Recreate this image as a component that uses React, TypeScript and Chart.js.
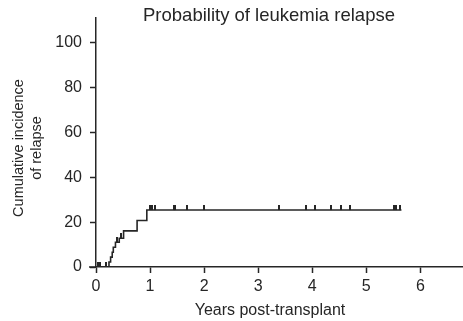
import React, { useEffect, useRef } from "react";
import { Chart, registerables } from "chart.js";

Chart.register(...registerables);

// Step (event) times in years and cumulative incidence (%) reached at each time
const stepTimes = [0, 0.24, 0.27, 0.3, 0.32, 0.36, 0.43, 0.51, 0.76, 0.94, 5.65];
const stepValues = [0, 2.2, 4.4, 6.6, 8.8, 11.0, 12.8, 16.1, 20.7, 25.4, 25.4];

// Censored observations (years)
const censorTimes = [
  0.03, 0.08, 0.19, 0.39, 0.47, 0.99, 1.04, 1.09, 1.45, 1.47, 1.69, 1.99,
  3.38, 3.89, 4.05, 4.34, 4.53, 4.69, 5.51, 5.55, 5.63,
];

const xTicks = [0, 1, 2, 3, 4, 5, 6];
const yTicks = [0, 20, 40, 60, 80, 100];

const chartTitle = "Probability of leukemia relapse";
const xTitle = "Years post-transplant";
const yTitle = ["Cumulative incidence", "of relapse"];

const INK = "#262626";
const FONT = "'Liberation Sans', Arial, sans-serif";

function levelAt(t: number): number {
  let v = 0;
  for (let i = 0; i < stepTimes.length; i++) {
    if (stepTimes[i] <= t) v = stepValues[i];
  }
  return v;
}

function makeCensorMark(): HTMLCanvasElement {
  const c = document.createElement("canvas");
  c.width = 2;
  c.height = 10;
  const g = c.getContext("2d")!;
  g.fillStyle = INK;
  g.fillRect(0, 0, 2, 5);
  return c;
}

export default function App() {
  const ref = useRef<HTMLCanvasElement | null>(null);

  useEffect(() => {
    document.body.style.margin = "0";
    const canvas = ref.current!;
    const mark = makeCensorMark();

    const decor = {
      id: "decor",
      afterDraw(chart: any) {
        const ctx = chart.ctx;
        const xs = chart.scales.x;
        const ys = chart.scales.y;
        const y0 = ys.getPixelForValue(0);
        const xL = xs.getPixelForValue(0);
        ctx.save();
        // short extension of the x axis left of the y axis
        ctx.strokeStyle = INK;
        ctx.lineWidth = 1.5;
        ctx.beginPath();
        ctx.moveTo(xL - 7, y0);
        ctx.lineTo(xL, y0);
        ctx.stroke();

        ctx.fillStyle = INK;
        // chart title
        ctx.font = `18.5px ${FONT}`;
        ctx.textAlign = "center";
        ctx.textBaseline = "middle";
        ctx.fillText(chartTitle, 269, 16);
        // x title
        ctx.font = `16px ${FONT}`;
        ctx.fillText(xTitle, 270, 311);
        // y title (rotated)
        ctx.font = `14.5px ${FONT}`;
        ctx.translate(0, 148);
        ctx.rotate(-Math.PI / 2);
        ctx.textBaseline = "alphabetic";
        ctx.fillText(yTitle[0], 0, 22.5);
        ctx.fillText(yTitle[1], 0, 40.5);
        ctx.restore();
      },
    };

    const chart = new Chart(canvas, {
      type: "line",
      data: {
        datasets: [
          {
            type: "line",
            data: stepTimes.map((t, i) => ({ x: t, y: stepValues[i] })),
            stepped: "before",
            borderColor: INK,
            borderWidth: 1.6,
            pointRadius: 0,
            fill: false,
          },
          {
            type: "scatter",
            data: censorTimes.map((t) => ({ x: t, y: levelAt(t) })),
            pointStyle: mark as any,
            pointRadius: 5,
          },
        ],
      },
      options: {
        responsive: false,
        animation: false,
        events: [],
        layout: { autoPadding: false, padding: { top: 18, right: 1, left: 0, bottom: 0 } },
        plugins: {
          legend: { display: false },
          title: { display: false },
          tooltip: { enabled: false },
        },
        scales: {
          x: {
            type: "linear",
            min: 0,
            max: 6.77,
            afterFit: (s: any) => {
              s.height = 54;
              s.paddingLeft = 0;
              s.paddingRight = 0;
            },
            afterBuildTicks: (s: any) => {
              s.ticks = xTicks.map((v) => ({ value: v }));
            },
            grid: {
              display: true,
              drawOnChartArea: false,
              drawTicks: true,
              tickLength: 6,
              tickWidth: 1.5,
              color: INK,
            },
            border: { display: true, color: INK, width: 1.5 },
            ticks: {
              color: INK,
              font: { family: FONT, size: 16 },
              padding: 4,
              maxRotation: 0,
              callback: (v: any) => String(v),
            },
          },
          y: {
            type: "linear",
            min: 0,
            max: 111,
            afterFit: (s: any) => {
              s.width = 96;
            },
            afterBuildTicks: (s: any) => {
              s.ticks = yTicks.map((v) => ({ value: v }));
            },
            grid: {
              display: true,
              drawOnChartArea: false,
              drawTicks: true,
              tickLength: 6,
              tickWidth: 1.5,
              color: INK,
            },
            border: { display: true, color: INK, width: 1.5 },
            ticks: {
              color: INK,
              font: { family: FONT, size: 16 },
              padding: 8,
              callback: (v: any) => String(v),
            },
          },
        },
      },
      plugins: [decor],
    } as any);

    return () => chart.destroy();
  }, []);

  return (
    <div style={{ position: "fixed", left: 0, top: 0, width: 463, height: 321 }}>
      <canvas ref={ref} width={463} height={321} style={{ display: "block" }} />
    </div>
  );
}
